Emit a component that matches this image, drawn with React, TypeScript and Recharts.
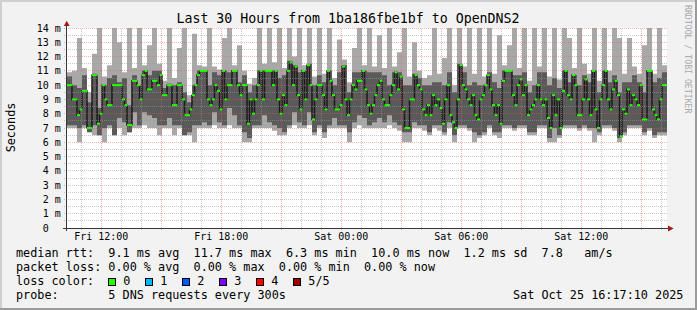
import React from "react";
import { Area, CartesianGrid, ComposedChart, Line, ReferenceLine, XAxis, YAxis } from "recharts";

// 30 hours, one smoke column every 15 minutes, two median samples per column
const hiPing = [
  10.9, 11.0, 13.3, 11.2, 9.5, 12.2, 14, 10.6, 11.4, 14, 13.0, 10.9, 14, 11.2, 14, 11.4, 12.8, 14, 11.5, 10.3, 14, 10.5, 12.6, 14,
  9.3, 13.6, 11.4, 11.3, 14, 11.3, 11.1, 13.3, 14, 11.4, 12.8, 11.0, 10.1, 10.5, 14, 11.5, 14, 11.6, 14, 11.2, 14, 12.0, 14, 11.4,
  14, 10.6, 14, 10.8, 14, 10.5, 13.2, 11.8, 10.2, 12.6, 14, 11.4, 14, 11.3, 13.5, 11.2, 14, 11.3, 12.3, 14, 10.6, 13.0, 11.0, 10.5,
  10.7, 14, 10.8, 11.9, 14, 10.0, 14, 11.3, 14, 10.8, 14, 10.6, 14, 10.8, 13.5, 11.4, 12.8, 14, 11.2, 14, 10.3, 14, 11.3, 14,
  10.6, 14, 10.4, 14, 13.3, 11.2, 14, 11.5, 10.8, 14, 10.3, 14, 11.0, 14, 13.3, 10.8, 13.3, 11.3, 10.8, 12.8, 14, 10.8, 14, 11.4,
];
const upperPing = [
  10.6, 10.0, 9.8, 10.7, 8.8, 10.8, 8.4, 10.0, 10.5, 10.7, 10.2, 10.5, 8.6, 10.7, 10.0, 11.0, 10.7, 11.0, 11.0, 9.8, 10.1, 10.0, 10.2, 9.5,
  8.8, 10.0, 11.0, 11.0, 10.0, 10.9, 10.7, 11.0, 10.9, 11.0, 10.2, 10.7, 9.5, 10.0, 11.0, 11.0, 11.0, 11.0, 10.5, 10.7, 11.7, 11.4, 10.9, 11.0,
  11.5, 10.0, 10.7, 10.2, 11.0, 10.0, 10.9, 11.4, 9.5, 10.9, 10.9, 11.0, 10.9, 10.9, 10.9, 10.7, 10.0, 10.9, 10.9, 10.0, 10.0, 10.8, 10.5, 10.0,
  10.0, 10.2, 10.2, 10.0, 10.9, 9.5, 11.5, 10.9, 10.0, 10.2, 10.0, 10.0, 10.9, 10.2, 9.8, 11.0, 11.0, 10.7, 10.7, 10.9, 9.5, 10.0, 10.9, 10.9,
  10.0, 10.5, 9.8, 11.0, 10.2, 10.7, 10.0, 10.7, 10.2, 11.0, 9.5, 11.0, 10.2, 10.7, 9.5, 10.2, 10.2, 10.7, 10.2, 9.5, 11.0, 10.2, 10.5, 10.9,
];
const lowerPing = [
  7.2, 7.2, 7.0, 7.2, 6.7, 7.2, 6.5, 7.0, 7.2, 6.5, 7.7, 7.4, 6.7, 8.1, 7.2, 8.1, 7.9, 7.7, 7.2, 7.2, 7.7, 7.2, 7.2, 6.5,
  6.7, 7.2, 7.2, 7.4, 7.2, 8.1, 7.4, 7.2, 8.4, 7.9, 7.2, 6.7, 6.3, 7.2, 7.2, 7.9, 7.4, 7.2, 7.0, 6.7, 7.2, 8.1, 7.4, 7.2,
  8.1, 6.7, 7.2, 6.7, 7.2, 7.7, 7.2, 7.2, 6.7, 7.4, 7.9, 7.7, 7.2, 7.4, 7.7, 7.4, 7.9, 7.4, 7.2, 6.7, 6.7, 7.4, 7.2, 7.2,
  6.7, 7.2, 7.2, 6.7, 7.4, 6.5, 7.2, 7.2, 7.0, 6.7, 6.5, 6.7, 7.2, 6.7, 6.7, 7.2, 7.2, 7.0, 7.2, 7.2, 6.7, 6.7, 7.2, 7.2,
  6.3, 7.0, 6.5, 7.2, 7.2, 7.2, 7.0, 7.2, 7.0, 7.0, 6.7, 7.2, 7.2, 7.0, 6.3, 6.7, 7.2, 7.2, 7.2, 6.7, 7.0, 6.5, 6.7, 6.7,
];
const loPing = [
  7.0, 7.0, 6.0, 7.0, 6.7, 6.5, 6.5, 6.0, 7.0, 6.5, 7.0, 6.5, 6.7, 7.0, 7.0, 7.2, 7.0, 7.0, 6.5, 7.0, 7.0, 6.5, 7.0, 6.5,
  6.5, 6.0, 7.0, 7.0, 7.0, 7.2, 7.0, 7.0, 7.2, 7.0, 7.0, 6.0, 6.0, 7.0, 7.0, 7.0, 7.0, 6.8, 6.5, 6.5, 7.0, 7.2, 7.0, 7.0,
  7.2, 6.5, 7.0, 6.3, 7.0, 7.0, 7.0, 7.0, 6.0, 7.0, 7.2, 7.0, 7.0, 7.0, 7.0, 7.0, 7.2, 7.0, 6.8, 6.0, 6.0, 7.0, 7.0, 6.8,
  6.5, 7.0, 6.8, 6.5, 7.0, 6.0, 7.0, 7.0, 6.8, 6.0, 6.3, 6.5, 7.0, 6.5, 6.3, 7.0, 7.0, 6.8, 7.0, 7.0, 6.5, 6.5, 7.0, 7.0,
  6.0, 6.0, 6.3, 7.0, 7.0, 7.0, 6.8, 7.0, 6.8, 6.0, 6.5, 7.0, 7.0, 6.8, 6.0, 6.5, 7.0, 7.0, 7.0, 6.5, 6.8, 6.3, 6.5, 6.5,
];
const medianRtt = [
  10.0, 10.0, 9.0, 9.0, 7.9, 8.3, 9.6, 9.6, 7.0, 7.0, 10.7, 10.7, 7.3, 8.0, 10.0, 9.0, 8.6, 8.6, 10.0, 10.0,
  10.0, 10.0, 9.0, 8.6, 7.2, 7.2, 10.3, 10.3, 10.0, 9.0, 10.7, 11.0, 9.7, 9.7, 10.3, 10.3, 10.0, 10.7, 9.3, 9.3,
  10.0, 10.0, 8.6, 8.6, 10.0, 10.0, 9.0, 7.9, 7.9, 8.3, 9.3, 10.0, 10.7, 11.0, 11.0, 11.0, 9.0, 8.6, 9.0, 10.0,
  9.6, 8.3, 11.0, 9.0, 10.0, 10.0, 11.0, 11.0, 10.0, 9.3, 10.0, 10.0, 7.3, 9.0, 8.0, 9.0, 10.0, 11.0, 9.0, 11.0,
  11.0, 11.0, 10.0, 11.0, 9.0, 8.0, 9.3, 8.6, 11.0, 11.6, 10.0, 11.3, 9.3, 8.3, 11.0, 9.0, 11.4, 10.0, 7.6, 9.0,
  10.0, 10.0, 9.3, 8.3, 11.0, 10.3, 9.3, 8.3, 8.3, 8.6, 11.3, 9.0, 7.9, 9.0, 10.0, 9.7, 10.3, 10.3, 11.0, 9.7,
  8.6, 8.0, 8.6, 9.3, 10.0, 10.3, 9.0, 8.6, 8.6, 9.3, 10.0, 10.9, 9.7, 10.6, 8.3, 7.0, 7.0, 9.0, 9.0, 10.7,
  10.0, 9.7, 8.3, 7.9, 8.6, 7.9, 9.3, 8.6, 9.0, 8.4, 7.3, 9.0, 10.0, 7.9, 7.4, 7.0, 9.0, 11.4, 10.0, 9.7,
  9.0, 8.6, 9.3, 7.9, 7.6, 9.0, 9.3, 10.0, 10.7, 9.7, 8.6, 7.9, 8.6, 7.3, 10.3, 11.0, 11.0, 11.0, 9.3, 8.6,
  10.0, 10.4, 9.3, 10.0, 7.9, 8.3, 8.6, 9.0, 10.0, 9.0, 8.6, 9.0, 7.7, 7.0, 9.3, 7.9, 9.0, 7.0, 9.6, 11.0,
  9.3, 9.0, 10.7, 10.0, 7.9, 7.9, 9.0, 10.4, 9.0, 7.9, 11.0, 8.3, 7.0, 9.0, 10.0, 11.0, 9.0, 8.3, 9.7, 10.3,
  9.3, 6.4, 8.3, 8.0, 9.7, 8.6, 9.3, 9.0, 8.6, 10.0, 7.6, 7.6, 11.0, 11.0, 8.3, 7.9, 7.6, 9.0, 10.0, 10.0,
];

const yTicks = [0, 1, 2, 3, 4, 5, 6, 7, 8, 9, 10, 11, 12, 13, 14];
const xLabels = ["Fri 12:00", "Fri 18:00", "Sat 00:00", "Sat 06:00", "Sat 12:00"];
// hours since the left edge of the graph (Fri 10:17:10)
const firstLabelHour = 1 + 42 / 60 + 50 / 3600;
const xTicks = xLabels.map((_, i) => firstLabelHour + 6 * i);

const legendRows = [
  "median rtt:  9.1 ms avg  11.7 ms max  6.3 ms min  10.0 ms now  1.2 ms sd  7.8   am/s",
  "packet loss: 0.00 % avg  0.00 % max  0.00 % min  0.00 % now",
  "loss color:",
  "probe:       5 DNS requests every 300s",
];
const lossLabels = ["0", "1", "2", "3", "4", "5/5"];
const lossColors = ["#26ff00", "#00b8ff", "#0059ff", "#7e00ff", "#ff0000", "#a00000"];

const STEP = 0.125;
const rows = medianRtt.concat([medianRtt[medianRtt.length - 1]]).map((m, i) => {
  const c = Math.min(i >> 1, hiPing.length - 1);
  return {
    t: i * STEP,
    outer: [loPing[c], hiPing[c]],
    inner: [lowerPing[c], upperPing[c]],
    median: m,
  };
});

// grid: gray every half unit, red on the whole units from 6 m up
const hMinor: number[] = [];
const hMajor: number[] = [];
for (let v = 0.5; v <= 14; v += 0.5) (Number.isInteger(v) && v >= 6 ? hMajor : hMinor).push(v);
const vMinor: number[] = [];
const vMajor: number[] = [];
for (let h = firstLabelHour - 1; h < 30; h += 1) {
  const k = Math.round(h - firstLabelHour);
  (k % 3 === 0 ? vMajor : vMinor).push(h);
}

const MONO = "'DejaVu Sans Mono', monospace";

const YTick = (props: any) => {
  const { x, y, payload } = props;
  const v = payload.value;
  return (
    <g fontFamily={MONO} fontSize={10} fill="#000">
      <text x={x - 18.3} y={y} dy="0.35em" textAnchor="end">
        {v}
      </text>
      {v > 0 && (
        <text x={x - 12.2} y={y} dy="0.35em">
          m
        </text>
      )}
    </g>
  );
};

const XTick = (props: any) => {
  const { x, y, payload } = props;
  const i = xTicks.findIndex(t => Math.abs(t - payload.value) < 1e-6);
  return (
    <text x={x} y={y + 12} textAnchor="middle" fontFamily={MONO} fontSize={10} fill="#000">
      {xLabels[i] ?? ""}
    </text>
  );
};

const MedianDot = (props: any) => {
  const { cx, cy, index } = props;
  if (index >= medianRtt.length || cx == null) return <g key={`d${index}`} />;
  return <rect key={`d${index}`} x={cx} y={cy - 1} width={3} height={2} fill="#26ff00" />;
};

const gridLine = (color: string, opacity: number) => ({
  ifOverflow: "visible" as const,
  stroke: color,
  strokeOpacity: opacity,
  strokeDasharray: "1 1",
  shapeRendering: "crispEdges",
});

export default function App() {
  return (
    <div
      style={{
        position: "absolute",
        left: 0,
        top: 0,
        width: 697,
        height: 310,
        background: "#f2f2f2",
        overflow: "hidden",
      }}
    >
      <ComposedChart width={697} height={310} data={rows} margin={{ top: 28, right: 30, bottom: 62, left: 7 }}>
        <CartesianGrid horizontal={false} vertical={false} fill="#ffffff" />
        <XAxis
          dataKey="t"
          type="number"
          domain={[0, 30]}
          ticks={xTicks}
          tick={<XTick />}
          axisLine={false}
          tickLine={false}
          tickSize={0}
          tickMargin={0}
          height={20}
          interval={0}
          allowDataOverflow
        />
        <YAxis
          type="number"
          domain={[0, 14]}
          ticks={yTicks}
          tick={<YTick />}
          axisLine={false}
          tickLine={false}
          tickSize={0}
          tickMargin={0}
          width={60}
          interval={0}
          allowDataOverflow
        />
        <Area
          type="stepAfter"
          dataKey="outer"
          fill="#a8a8a8"
          fillOpacity={1}
          stroke="none"
          isAnimationActive={false}
          activeDot={false}
        />
        <Area
          type="stepAfter"
          dataKey="inner"
          fill="#5a5a5a"
          fillOpacity={1}
          stroke="none"
          isAnimationActive={false}
          activeDot={false}
        />
        <Line
          type="stepAfter"
          dataKey="median"
          stroke="#1a1a1a"
          strokeWidth={1.5}
          dot={MedianDot}
          activeDot={false}
          isAnimationActive={false}
        />
        {hMinor.map(v => (
          <ReferenceLine key={`hm${v}`} segment={[{ x: -0.15, y: v }, { x: 30.05, y: v }]} {...gridLine("#9a9a9a", 0.55)} />
        ))}
        {vMinor.map(h => (
          <ReferenceLine key={`vm${h}`} segment={[{ x: h, y: -0.14 }, { x: h, y: 14 }]} {...gridLine("#9a9a9a", 0.55)} />
        ))}
        {hMajor.map(v => (
          <ReferenceLine key={`hM${v}`} segment={[{ x: -0.15, y: v }, { x: 30.05, y: v }]} {...gridLine("#e85a5a", 0.45)} />
        ))}
        {vMajor.map(h => (
          <ReferenceLine key={`vM${h}`} segment={[{ x: h, y: -0.14 }, { x: h, y: 14 }]} {...gridLine("#e85a5a", 0.5)} />
        ))}
      </ComposedChart>
      <svg
        width={697}
        height={310}
        style={{ position: "absolute", left: 0, top: 0, pointerEvents: "none" }}
        fontFamily={MONO}
      >
        <rect x={0} y={0} width={697} height={2} fill="#cfcfcf" />
        <rect x={0} y={0} width={2} height={310} fill="#cfcfcf" />
        <rect x={695} y={0} width={2} height={310} fill="#9b9b9b" />
        <rect x={0} y={308} width={697} height={2} fill="#9b9b9b" />

        <text x={348} y={23} textAnchor="middle" fontSize={13.25} fill="#000">
          Last 30 Hours from 1ba186fbe1bf to OpenDNS2
        </text>
        <text x={14.5} y={127.5} textAnchor="middle" fontSize={11.8} fill="#000" transform="rotate(-90 14.5 127.5)">
          Seconds
        </text>
        <text x={684.5} y={5} fontSize={8.2} fill="#a8a8a8" transform="rotate(90 684.5 5)">
          RRDTOOL / TOBI OETIKER
        </text>

        <line x1={63} y1={228.5} x2={668} y2={228.5} stroke="#383838" strokeWidth={1} />
        <line x1={66.5} y1={231} x2={66.5} y2={25} stroke="#383838" strokeWidth={1} />
        <polygon points="63.8,26 69.7,26 66.75,20.8" fill="#a01c1c" />
        <polygon points="668,225.6 668,231.4 673.6,228.5" fill="#a01c1c" />

        {legendRows.map((r, i) => (
          <text key={r} x={16} y={257 + 14 * i} fontSize={11.8} fill="#000" xmlSpace="preserve" style={{ whiteSpace: "pre" }}>
            {r}
          </text>
        ))}
        {lossLabels.map((l, i) => (
          <g key={l}>
            <rect x={108.5 + 37 * i} y={278.5} width={7} height={7} fill={lossColors[i]} stroke="#000" strokeWidth={1} />
            <text x={123.3 + 37 * i} y={285} fontSize={11.8} fill="#000">
              {l}
            </text>
          </g>
        ))}
        <text x={513} y={299} fontSize={11.8} fill="#000">
          Sat Oct 25 16:17:10 2025
        </text>
      </svg>
    </div>
  );
}
